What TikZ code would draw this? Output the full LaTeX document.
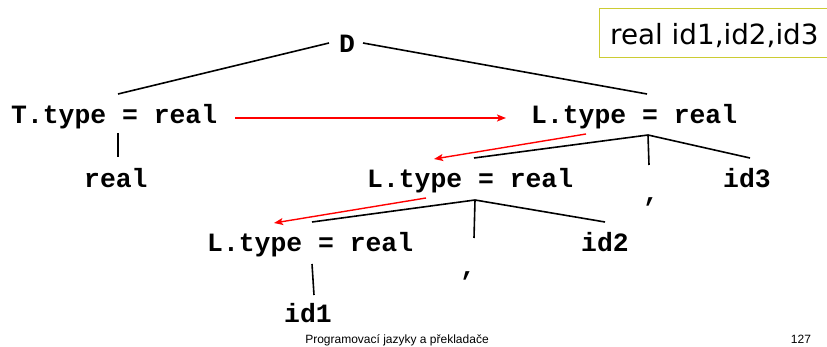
\documentclass[tikz,border=0pt]{standalone}
\usepackage{fontspec}
\setmainfont{Liberation Sans}
\newfontfamily\treefont{Liberation Mono}
\newfontfamily\boxfont{DejaVu Sans}
\usetikzlibrary{arrows.meta}
\definecolor{boxline}{RGB}{204,204,51}
\tikzset{
  sym/.style={font=\treefont\bfseries\fontsize{26.4}{30}\selectfont, inner sep=0pt, anchor=base west},
  edge/.style={line width=1.6pt, black},
  inherit/.style={line width=1.4pt, red, -{Stealth[length=9pt,width=7pt,inset=2pt]}},
}
\begin{document}
\begin{tikzpicture}[x=1pt,y=-1pt]
\useasboundingbox (0,0) rectangle (827,347);
\fill[white] (0,0) rectangle (827,347);

% declaration box
\begin{scope}
\clip (0,0) rectangle (827,347);
\node[draw=boxline, line width=1.2pt, minimum width=232pt, minimum height=49pt, anchor=north west, inner sep=0pt] (decl) at (599,8) {};
\end{scope}
\node[font=\boxfont\fontsize{27.8}{32}\selectfont, inner sep=0pt, anchor=base west] (decltext) at (610,45) {real id1,id2,id3};

% tree symbols
\node[sym] (D)  at (339,53)  {D};
\node[sym] (T)  at (11,124)  {T.type = real};
\node[sym] (L1) at (531,124) {L.type = real};
\node[sym] (R)  at (84,188)  {real};
\node[sym] (L2) at (367,188) {L.type = real};
\node[sym] (C1) at (643,202) {,};
\node[sym] (I3) at (723,188) {id3};
\node[sym] (L3) at (207,252) {L.type = real};
\node[sym] (C2) at (460,276) {,};
\node[sym] (I2) at (581,252) {id2};
\node[sym] (I1) at (284,323) {id1};

% edge end points
\coordinate (Dl) at (329,43);
\coordinate (Dr) at (363,43);
\coordinate (Tt) at (118,94);
\coordinate (L1t) at (647,94);
\coordinate (Tb) at (118,133);
\coordinate (Rt) at (118,157);
\coordinate (L1b) at (648,135);
\coordinate (L2t) at (474,158);
\coordinate (C1t) at (649,165);
\coordinate (I3t) at (750,158);
\coordinate (L2b) at (475,200);
\coordinate (L3t) at (312,222);
\coordinate (C2t) at (474,238);
\coordinate (I2t) at (605,222);
\coordinate (L3b) at (312,264);
\coordinate (I1t) at (314,295);

% parse tree edges
\draw[edge] (Dl) -- (Tt);
\draw[edge] (Dr) -- (L1t);
\draw[edge] (Tb) -- (Rt);
\draw[edge] (L2t) -- (L1b) -- (I3t);
\draw[edge] (L1b) -- (C1t);
\draw[edge] (L3t) -- (L2b) -- (I2t);
\draw[edge] (L2b) -- (C2t);
\draw[edge] (L3b) -- (I1t);

% inherited attribute flow
\coordinate (a1s) at (235,118);
\coordinate (a1e) at (506,118);
\coordinate (a2s) at (586,134);
\coordinate (a2e) at (434,159);
\coordinate (a3s) at (426,198);
\coordinate (a3e) at (274,223);
\draw[inherit] (a1s) -- (a1e);
\draw[inherit] (a2s) -- (a2e);
\draw[inherit] (a3s) -- (a3e);

% footer
\node[font=\fontsize{12}{14}\selectfont, inner sep=0pt, anchor=base] (foot) at (397,343) {Programovací jazyky a překladače};
\node[font=\fontsize{12}{14}\selectfont, inner sep=0pt, anchor=base] (page) at (801,343) {127};
\end{tikzpicture}
\end{document}
